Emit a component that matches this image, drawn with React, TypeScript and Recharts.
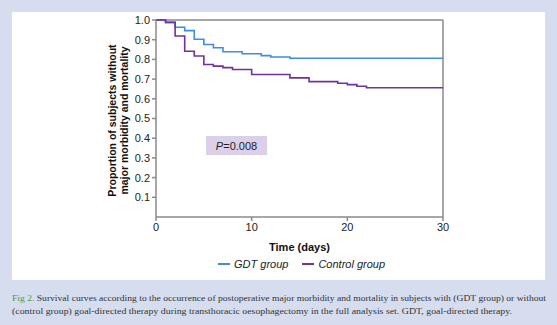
import {
  LineChart,
  Line,
  XAxis,
  YAxis,
  ReferenceLine,
  Label,
} from 'recharts';

// survival steps (time in days -> proportion)
const GDT_TIMES = [0, 1, 2, 3, 4, 5, 6, 7, 9, 11, 12, 14, 30];
const GDT_VALUES = [1.0, 0.988, 0.963, 0.946, 0.902, 0.876, 0.859, 0.839, 0.829, 0.819, 0.812, 0.806, 0.806];

const CTRL_TIMES = [0, 1, 2, 3, 4, 5, 6, 7, 8, 10, 14, 16, 19, 20, 21, 22, 30];
const CTRL_VALUES = [1.0, 0.988, 0.919, 0.841, 0.817, 0.774, 0.766, 0.758, 0.749, 0.723, 0.706, 0.687, 0.679, 0.672, 0.664, 0.656, 0.656];

const X_TICKS = [0, 10, 20, 30];
const Y_TICKS = [0.1, 0.2, 0.3, 0.4, 0.5, 0.6, 0.7, 0.8, 0.9, 1.0];

const SERIES_NAMES = ['GDT group', 'Control group'];
const P_LABEL = '0.008';

const CAPTION_1 =
  'Survival curves according to the occurrence of postoperative major morbidity and mortality in subjects with (GDT group) or without';
const CAPTION_2 =
  '(control group) goal-directed therapy during transthoracic oesophagectomy in the full analysis set. GDT, goal-directed therapy.';

const BLUE = '#3d8de6';
const PURPLE = '#7030a0';
const AXIS = '#8a8a8a';
const FONT = '"Liberation Sans", Arial, sans-serif';
const SERIF = '"Liberation Serif", "DejaVu Serif", serif';

const gdtData = GDT_TIMES.map((t, i) => ({ t, v: GDT_VALUES[i] }));
const ctrlData = CTRL_TIMES.map((t, i) => ({ t, v: CTRL_VALUES[i] }));

function YLabel(props: any) {
  const { viewBox } = props;
  const cy = viewBox.y + viewBox.height / 2 + 2;
  return (
    <g>
      <text
        x={112}
        y={cy}
        transform={`rotate(-90 112 ${cy})`}
        textAnchor="middle"
        dominantBaseline="central"
        fontFamily={FONT}
        fontWeight="bold"
        fontSize={10.5}
        fill="#111"
      >
        Proportion of subjects without
      </text>
      <text
        x={124}
        y={cy}
        transform={`rotate(-90 124 ${cy})`}
        textAnchor="middle"
        dominantBaseline="central"
        fontFamily={FONT}
        fontWeight="bold"
        fontSize={10.5}
        fill="#111"
      >
        major morbidity and mortality
      </text>
    </g>
  );
}

export default function App() {
  return (
    <div
      style={{
        position: 'absolute',
        left: 0,
        top: 0,
        width: 557,
        height: 325,
        background: '#d5ddef',
      }}
    >
      <div
        style={{
          position: 'absolute',
          left: 12,
          top: 12,
          width: 533,
          height: 268,
          background: '#fff',
        }}
      />
      <div style={{ position: 'absolute', left: 0, top: 0 }}>
        <LineChart width={557} height={280} margin={{ top: 20, right: 114, bottom: 33, left: 116 }}>
          <XAxis
            dataKey="t"
            type="number"
            domain={[0, 30]}
            ticks={X_TICKS}
            allowDuplicatedCategory={false}
            height={30}
            tickSize={4}
            tickMargin={2}
            stroke={AXIS}
            strokeWidth={1.5}
            tick={{ fill: '#222', fontSize: 11, fontFamily: FONT }}
          >
            <Label
              value="Time (days)"
              position="insideBottom"
              offset={-4}
              style={{ fontFamily: FONT, fontWeight: 'bold', fontSize: 11, fill: '#111' }}
            />
          </XAxis>
          <YAxis
            type="number"
            domain={[0, 1]}
            ticks={Y_TICKS}
            width={40}
            tickSize={4}
            tickMargin={2}
            stroke={AXIS}
            strokeWidth={1.5}
            tickFormatter={(v: number) => v.toFixed(1)}
            tick={{ fill: '#222', fontSize: 11, fontFamily: FONT }}
          >
            <Label content={<YLabel />} />
          </YAxis>
          <ReferenceLine y={1} stroke={AXIS} strokeWidth={1.5} />
          <ReferenceLine x={30} stroke={AXIS} strokeWidth={1.5} />
          <Line
            data={gdtData}
            dataKey="v"
            name={SERIES_NAMES[0]}
            type="stepAfter"
            stroke={BLUE}
            strokeWidth={1.6}
            dot={false}
            isAnimationActive={false}
          />
          <Line
            data={ctrlData}
            dataKey="v"
            name={SERIES_NAMES[1]}
            type="stepAfter"
            stroke={PURPLE}
            strokeWidth={1.6}
            dot={false}
            isAnimationActive={false}
          />
        </LineChart>
      </div>

      {/* P value box */}
      <div
        style={{
          position: 'absolute',
          left: 206,
          top: 136,
          width: 61,
          height: 19,
          background: '#dccfea',
          display: 'flex',
          alignItems: 'center',
          justifyContent: 'center',
          fontFamily: FONT,
          fontSize: 11,
          color: '#222',
        }}
      >
        <i>P</i>={P_LABEL}
      </div>

      {/* legend */}
      <div
        style={{
          position: 'absolute',
          left: 218,
          top: 258,
          display: 'flex',
          alignItems: 'center',
          fontFamily: FONT,
          fontSize: 11,
          fontStyle: 'italic',
          color: '#222',
          whiteSpace: 'nowrap',
        }}
      >
        <span style={{ display: 'inline-block', width: 12, height: 1.6, background: BLUE, marginRight: 4 }} />
        <span style={{ marginRight: 14 }}>{SERIES_NAMES[0]}</span>
        <span style={{ display: 'inline-block', width: 12, height: 1.6, background: PURPLE, marginRight: 4 }} />
        <span>{SERIES_NAMES[1]}</span>
      </div>

      {/* caption */}
      <svg style={{ position: 'absolute', left: 0, top: 285 }} width={557} height={40}>
        <text x={12} y={16} textLength={534} lengthAdjust="spacingAndGlyphs" fontFamily={SERIF} fontSize={9} fill="#333">
          <tspan fill="#4c9a44">Fig 2.</tspan> {CAPTION_1}
        </text>
        <text x={12} y={28.5} textLength={500} lengthAdjust="spacingAndGlyphs" fontFamily={SERIF} fontSize={9} fill="#333">
          {CAPTION_2}
        </text>
      </svg>
    </div>
  );
}
